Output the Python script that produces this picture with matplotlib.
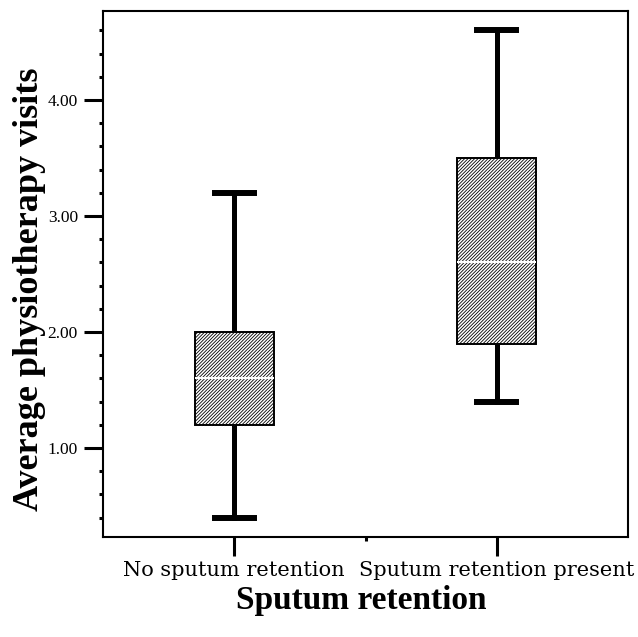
import matplotlib
matplotlib.use("Agg")
import matplotlib.pyplot as plt
from matplotlib.ticker import MultipleLocator, FixedLocator

categories = ["No sputum retention", "Sputum retention present"]
whislo = [0.4, 1.4]
q1 = [1.2, 1.9]
med = [1.6, 2.6]
q3 = [2.0, 3.5]
whishi = [3.2, 4.6]
yticks = [1.0, 2.0, 3.0, 4.0]
ytick_labels = ["1.00", "2.00", "3.00", "4.00"]

plt.rcParams['hatch.linewidth'] = 0.6
plt.rcParams['hatch.color'] = 'black'

fig = plt.figure(figsize=(6.38, 6.37), dpi=100)
ax = fig.add_axes([103/638, 1-537/637, (628-103)/638, (537-11)/637])

stats = []
for i, c in enumerate(categories):
    stats.append(dict(label=c, whislo=whislo[i], q1=q1[i], med=med[i],
                      q3=q3[i], whishi=whishi[i], fliers=[]))

bp = ax.bxp(stats, positions=[1, 2], widths=0.3, patch_artist=True,
            showfliers=False,
            boxprops=dict(facecolor='white', edgecolor='black', linewidth=1.4, hatch='//////////'),
            whiskerprops=dict(color='black', linewidth=3.6),
            capprops=dict(color='black', linewidth=4.3),
            medianprops=dict(color='white', linewidth=1.5),
            capwidths=0.15)
for w in bp['whiskers']:
    w.set_zorder(1)

ax.set_xlim(0.5, 2.5)
ax.set_ylim(0.233, 4.767)

ax.set_yticks(yticks)
ax.set_yticklabels(ytick_labels, fontfamily='Liberation Serif', fontsize=12.5)
ax.yaxis.set_minor_locator(MultipleLocator(0.2))
ax.tick_params(axis='y', which='major', length=14, width=2.2, direction='out', pad=4)
ax.tick_params(axis='y', which='minor', length=3, width=2.2, direction='out')

ax.set_xticks([1, 2])
ax.set_xticklabels(categories, fontfamily='DejaVu Serif', fontsize=15)
ax.xaxis.set_minor_locator(FixedLocator([1.5]))
ax.tick_params(axis='x', which='major', length=14, width=2.2, direction='out', pad=3)
ax.tick_params(axis='x', which='minor', length=3, width=2.2, direction='out')

for s in ax.spines.values():
    s.set_linewidth(1.5)

ax.set_xlabel("Sputum retention", fontfamily='Liberation Serif', fontweight='bold', fontsize=24)
ax.set_ylabel("Average physiotherapy visits", fontfamily='Liberation Serif', fontweight='bold', fontsize=26)
ax.xaxis.set_label_coords((361 - 103) / 525, (537 - 585) / 526)
ax.yaxis.set_label_coords((46 - 103) / 525, (537 - 289) / 526)

fig.savefig("out.png", dpi=100)
